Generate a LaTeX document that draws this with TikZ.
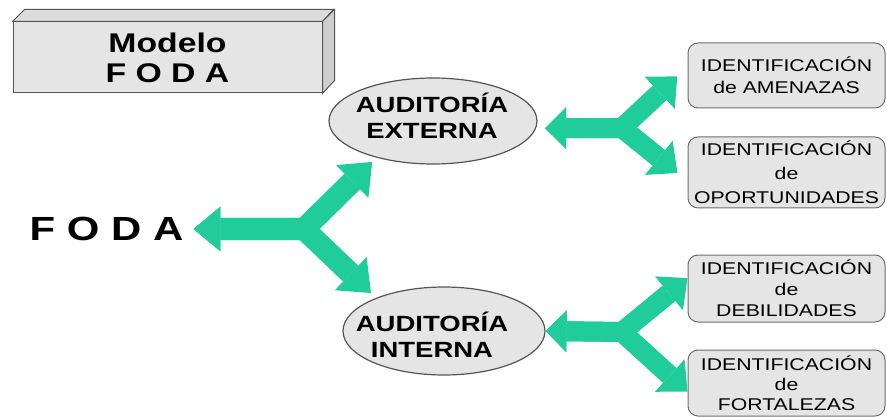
\documentclass[tikz,border=0pt]{standalone}
\usepackage{fontspec}
\setmainfont{Liberation Sans}[FakeStretch=1.25]
\usetikzlibrary{arrows.meta,calc,shapes.geometric}
\definecolor{fodagreen}{RGB}{32,204,153}
\definecolor{panel}{RGB}{229,229,229}
\definecolor{rim}{RGB}{85,85,85}
\begin{document}
\begin{tikzpicture}[x=1pt,y=-1pt,
  granite/.style={fill=panel, draw=rim, line width=1pt},
  audit/.style={granite, ellipse, line width=1.2pt, inner sep=0pt},
  auditlabel/.style={align=center, inner sep=0pt, font=\fontsize{22}{26}\selectfont\bfseries},
  idbox/.style={granite, draw=rim!85, rounded corners=10pt, minimum width=197pt,
    inner sep=0pt, align=center, font=\fontsize{17}{22}\selectfont},
  bigarrow/.style={draw=fodagreen, line width=22pt, line join=miter,
    {Triangle[length=27pt,width=45pt,line width=0pt]}-{Triangle[length=28pt,width=46pt,line width=0pt]}},
  smallarrow/.style={draw=fodagreen, line width=20pt, line join=miter,
    {Triangle[length=21pt,width=42pt,line width=0pt]}-{Triangle[length=24pt,width=44pt,line width=0pt]}}
]
\useasboundingbox (0,0) rectangle (887,417);

% title block drawn as a 3D slab
\node[granite, minimum width=309pt, minimum height=71pt, inner sep=0pt, align=center,
      font=\fontsize{27}{30}\selectfont\bfseries] (modelo) at (167.5,57.5) {Modelo\\F O D A};
\draw[granite, fill=panel!96!black] (modelo.north west) -- ++(12,-12) -- ++(309,0)
      -- (modelo.north east) -- cycle;
\draw[granite, fill=panel!90!black] (modelo.north east) -- ++(12,-12) -- ++(0,71)
      -- (modelo.south east) -- cycle;

% main label
\node[inner sep=0pt, font=\fontsize{33.5}{40}\selectfont\bfseries] (foda) at (106.5,229) {F O D A};

% audits
\node[audit, minimum width=208pt, minimum height=86pt] (ext) at (433,121) {};
\node[auditlabel] (extlabel) at (432,116) {AUDITORÍA\\EXTERNA};
\node[audit, minimum width=202pt, minimum height=88pt] (int) at (444,331) {};
\node[auditlabel] (intlabel) at (432,335) {AUDITORÍA\\INTERNA};

% identification boxes
\node[idbox, minimum height=65pt] (b1) at (786.5,75.5) {IDENTIFICACIÓN\\de AMENAZAS};
\node[idbox, minimum height=71pt, font=\fontsize{17}{24}\selectfont] (b2) at (786.5,172.5) {IDENTIFICACIÓN\\de\\OPORTUNIDADES};
\node[idbox, minimum height=67pt, font=\fontsize{17}{21}\selectfont] (b3) at (786.5,288.5) {IDENTIFICACIÓN\\de\\DEBILIDADES};
\node[idbox, minimum height=66pt, font=\fontsize{17}{20}\selectfont] (b4) at (786.5,383) {IDENTIFICACIÓN\\de\\FORTALEZAS};

% forked double arrows
\coordinate (j1) at (304,229);
\draw[bigarrow, shorten <=10pt, shorten >=6pt] (foda.east) -- (j1) -- (ext.213);
\draw[bigarrow, shorten <=10pt, shorten >=7pt] (foda.east) -- (j1) -- (int.154);

\coordinate (j2) at (622,128);
\draw[smallarrow, shorten <=9pt, shorten >=14pt] (ext.356) -- (j2) -- (b1.175);
\draw[smallarrow, shorten <=9pt, shorten >=13pt] (ext.356) -- (j2) -- (b2.185);

\coordinate (j3) at (622,332);
\draw[smallarrow] (int.east) -- (j3) -- (b3.174);
\draw[smallarrow] (int.east) -- (j3) -- (b4.185);
\end{tikzpicture}
\end{document}
